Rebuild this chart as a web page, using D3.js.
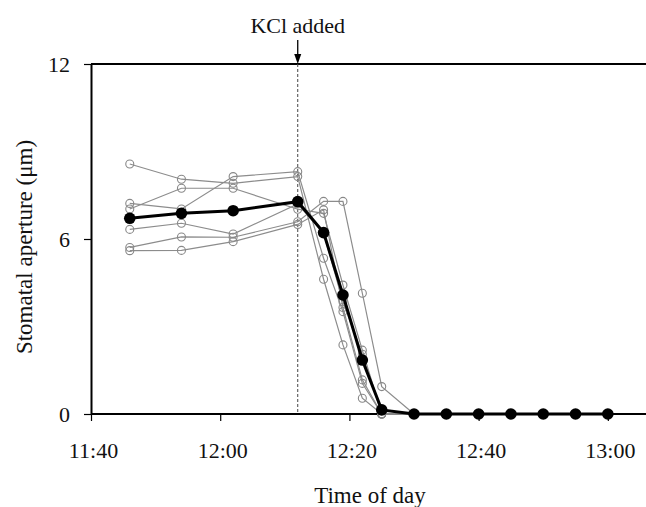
<!DOCTYPE html>
<html>
<head>
<meta charset="utf-8">
<script src="https://cdn.jsdelivr.net/npm/d3@7"></script>
<style>
  html, body { margin: 0; padding: 0; background: #fff; }
  svg { display: block; }
  text { font-family: "Liberation Serif", "Times New Roman", Times, serif; fill: #111; }
</style>
</head>
<body>
<svg id="chart" width="646" height="507"></svg>
<script>
// ---- data ----
const individualTimes = ["11:46","11:54","12:02","12:12","12:16","12:19","12:22","12:25","12:30"];
const stomaA = [8.57, 8.05, 7.91, 8.14, 4.62, 2.37, 0.54, 0, 0];
const stomaB = [7.03, 7.74, 7.74, 7.02, 6.88, 4.42, 2.19, 0, 0];
const stomaC = [7.22, 7.03, 8.14, 8.31, 5.34, 3.51, 1.05, 0, 0];
const stomaD = [6.33, 6.54, 6.17, 7.20, 6.20, 3.85, 2.05, 0, 0];
const stomaE = [5.71, 6.07, 6.06, 6.59, 7.29, 7.29, 4.14, 0.94, 0];
const stomaF = [5.60, 5.61, 5.91, 6.50, 7.00, 3.65, 1.17, 0, 0];

const meanTimes = ["11:46","11:54","12:02","12:12","12:16","12:19","12:22","12:25","12:30","12:35","12:40","12:45","12:50","12:55","13:00"];
const meanValues = [6.71, 6.88, 6.97, 7.28, 6.22, 4.08, 1.85, 0.14, 0, 0, 0, 0, 0, 0, 0];

const xTickLabels = ["11:40","12:00","12:20","12:40","13:00"];
const yTickValues = [0, 6, 12];
const kclTime = "12:12";
const kclLabel = "KCl added";
const xTitle = "Time of day";
const yTitle = "Stomatal aperture (μm)";

// ---- setup ----
const parse = d3.timeParse("%H:%M");
const svg = d3.select("#chart");
const mLeft = 91, mRight = 646.6, mTop = 64, mBottom = 414;

const x = d3.scaleTime()
  .domain([parse("11:40"), parse("13:06")])
  .range([mLeft, mRight]);
const y = d3.scaleLinear().domain([0, 12]).range([mBottom, mTop]);

// frame top line
svg.append("line")
  .attr("x1", mLeft).attr("x2", 646).attr("y1", mTop).attr("y2", mTop)
  .attr("stroke", "#000").attr("stroke-width", 2);

// KCl dashed line
svg.append("line")
  .attr("x1", x(parse(kclTime))).attr("x2", x(parse(kclTime)))
  .attr("y1", mTop).attr("y2", mBottom)
  .attr("stroke", "#444").attr("stroke-width", 1)
  .attr("stroke-dasharray", "3,2");

// x axis
const xAxis = d3.axisBottom(x)
  .tickValues(xTickLabels.map(parse))
  .tickFormat(d3.timeFormat("%H:%M"))
  .tickSize(7).tickSizeOuter(0).tickPadding(21);
const gx = svg.append("g").attr("transform", `translate(0,${mBottom})`).call(xAxis);
gx.select(".domain").attr("stroke", "#000").attr("stroke-width", 2)
  .attr("d", `M${mLeft},0H646`);
gx.selectAll(".tick line").attr("stroke", "#000").attr("stroke-width", 1.2);
gx.selectAll(".tick text").attr("font-size", 22).attr("fill", "#111")
  .attr("dx", 2);

// y axis
const yAxis = d3.axisLeft(y).tickValues(yTickValues).tickSize(7).tickSizeOuter(0).tickPadding(14);
const gy = svg.append("g").attr("transform", `translate(${mLeft},0)`).call(yAxis);
gy.select(".domain").attr("stroke", "#000").attr("stroke-width", 2);
gy.selectAll(".tick line").attr("stroke", "#000").attr("stroke-width", 1.2);
gy.selectAll(".tick text").attr("font-size", 22).attr("fill", "#111")
  .attr("dy", "0.35em");

// titles
svg.append("text").attr("x", 370).attr("y", 503).attr("text-anchor", "middle")
  .attr("font-size", 23).text(xTitle);
svg.append("text").attr("transform", "translate(32,247) rotate(-90)")
  .attr("text-anchor", "middle").attr("font-size", 23).text(yTitle);

// KCl annotation
const kx = x(parse(kclTime));
svg.append("text").attr("x", kx).attr("y", 33).attr("text-anchor", "middle")
  .attr("font-size", 22).text(kclLabel);
svg.append("line").attr("x1", kx).attr("x2", kx).attr("y1", 40).attr("y2", 56)
  .attr("stroke", "#000").attr("stroke-width", 1.3);
svg.append("path")
  .attr("d", `M${kx - 3.5},54 L${kx + 3.5},54 L${kx},64 Z`)
  .attr("fill", "#000");

// individual series
const individual = [stomaA, stomaB, stomaC, stomaD, stomaE, stomaF];
const line = d3.line().x(d => x(d.t)).y(d => y(d.v));
individual.forEach(vals => {
  const pts = vals.map((v, i) => ({ t: parse(individualTimes[i]), v }));
  svg.append("path").datum(pts).attr("d", line)
    .attr("fill", "none").attr("stroke", "#8c8c8c").attr("stroke-width", 1.2);
  svg.append("g").selectAll("circle").data(pts).join("circle")
    .attr("cx", d => x(d.t)).attr("cy", d => y(d.v)).attr("r", 4)
    .attr("fill", "none").attr("stroke", "#888").attr("stroke-width", 1.1);
});

// mean series
const meanPts = meanValues.map((v, i) => ({ t: parse(meanTimes[i]), v }));
svg.append("path").datum(meanPts).attr("d", line)
  .attr("fill", "none").attr("stroke", "#000").attr("stroke-width", 3);
svg.append("g").selectAll("circle").data(meanPts).join("circle")
  .attr("cx", d => x(d.t)).attr("cy", d => y(d.v)).attr("r", 5.8)
  .attr("fill", "#000");
</script>
</body>
</html>
